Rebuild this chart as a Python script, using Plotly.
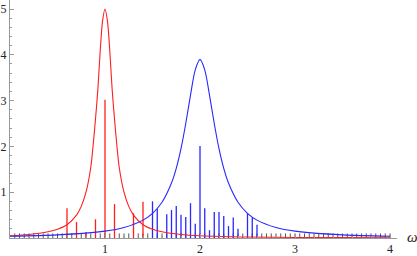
import plotly.graph_objects as go

# Smooth curves
red_x = [0.0, 0.2, 0.4, 0.5, 0.6, 0.7, 0.75, 0.8, 0.85, 0.9, 0.925, 0.95, 0.975, 1.0,
         1.025, 1.05, 1.075, 1.1, 1.15, 1.2, 1.25, 1.3, 1.4, 1.5, 1.6, 1.8, 2.0, 2.5, 3.0, 3.5, 4.0]
red_y = [0.05, 0.077, 0.135, 0.19, 0.29, 0.5, 0.69, 1.0, 1.54, 2.6, 3.25, 4.1, 4.75, 5.0,
         4.75, 4.1, 3.25, 2.6, 1.54, 1.0, 0.69, 0.5, 0.29, 0.19, 0.135, 0.077, 0.05, 0.022, 0.0125, 0.008, 0.0055]

blue_x = [0.0, 0.5, 1.0, 1.2, 1.4, 1.5, 1.6, 1.7, 1.75, 1.8, 1.85, 1.9, 1.95, 2.0,
          2.05, 2.1, 2.15, 2.2, 2.25, 2.3, 2.4, 2.5, 2.6, 2.8, 3.0, 3.5, 4.0]
blue_y = [0.039, 0.068, 0.15, 0.229, 0.39, 0.538, 0.78, 1.2, 1.52, 1.95, 2.5, 3.12, 3.67, 3.9,
          3.67, 3.12, 2.5, 1.95, 1.52, 1.2, 0.78, 0.538, 0.39, 0.229, 0.15, 0.068, 0.039]

# Stick spectra
red_stick_x = [0.6, 0.7, 0.8, 0.9, 1.0, 1.1, 1.3, 1.4]
red_stick_h = [0.65, 0.35, 0.13, 0.41, 3.02, 0.74, 0.54, 0.79]

blue_stick_x = [1.5, 1.55, 1.65, 1.7, 1.75, 1.8, 1.85, 1.9, 1.95, 2.0, 2.05, 2.1,
                2.15, 2.2, 2.25, 2.3, 2.35, 2.4, 2.5, 2.55, 2.6]
blue_stick_h = [0.80, 0.64, 0.52, 0.61, 0.70, 0.51, 0.46, 0.76, 0.31, 2.01, 0.65, 0.17,
                0.57, 0.57, 0.48, 0.26, 0.45, 0.20, 0.54, 0.45, 0.29]

gray_stick_x = [round(0.05 * i, 2) for i in range(1, 81)]
gray_stick_h = [0.1] * len(gray_stick_x)

y_ticks = [1, 2, 3, 4, 5]
x_ticks = [1, 2, 3, 4]


def sticks(xs, hs):
    sx, sy = [], []
    for x, h in zip(xs, hs):
        sx += [x, x, None]
        sy += [0, h, None]
    return sx, sy


fig = go.Figure()
gx, gy = sticks(gray_stick_x, gray_stick_h)
fig.add_trace(go.Scatter(x=gx, y=gy, mode="lines", line=dict(color="rgba(60,60,60,0.85)", width=1),
                         hoverinfo="skip"))
rx, ry = sticks(red_stick_x, red_stick_h)
fig.add_trace(go.Scatter(x=rx, y=ry, mode="lines", line=dict(color="rgb(255,30,30)", width=1.3),
                         hoverinfo="skip"))
bx, by = sticks(blue_stick_x, blue_stick_h)
fig.add_trace(go.Scatter(x=bx, y=by, mode="lines", line=dict(color="rgb(40,40,255)", width=1.3),
                         hoverinfo="skip"))
fig.add_trace(go.Scatter(x=red_x, y=red_y, mode="lines", line=dict(color="rgb(255,30,30)", width=1.1,
                                                                   shape="spline", smoothing=0.8)))
fig.add_trace(go.Scatter(x=blue_x, y=blue_y, mode="lines", line=dict(color="rgb(40,40,255)", width=1.1,
                                                                     shape="spline", smoothing=0.8)))

W, H = 417, 256
axis_gray = "#999999"
font = dict(family="Liberation Serif, Times New Roman, serif", size=12, color="#222222")

fig.update_layout(
    width=W, height=H,
    margin=dict(l=0, r=0, t=0, b=0, autoexpand=False),
    paper_bgcolor="white", plot_bgcolor="white",
    showlegend=False,
    xaxis=dict(domain=[10 / W, 397 / W], range=[0, 387 / 95], showgrid=False, zeroline=False,
               automargin=False,
               showline=True, linecolor=axis_gray, linewidth=1,
               tickmode="array", tickvals=x_ticks, ticktext=[str(t) for t in x_ticks],
               ticks="inside", ticklen=4, tickcolor=axis_gray, tickfont=font, ticklabelstandoff=0,
               minor=dict(dtick=0.2, ticks="inside", ticklen=2, tickcolor=axis_gray)),
    yaxis=dict(domain=[18 / H, 1], range=[0, 238 / 45.8], showgrid=False, zeroline=False,
               automargin=False,
               showline=True, linecolor=axis_gray, linewidth=1,
               tickmode="array", tickvals=y_ticks, ticktext=[str(t) for t in y_ticks],
               ticks="inside", ticklen=4, tickcolor=axis_gray, tickfont=font, ticklabelstandoff=0,
               minor=dict(dtick=0.2, ticks="inside", ticklen=2, tickcolor=axis_gray)),
    annotations=[dict(text="<i>ω</i>", x=412 / W, y=19 / H, xref="paper", yref="paper",
                      showarrow=False, xanchor="center", yanchor="middle",
                      font=dict(family="Liberation Serif, Times New Roman, serif", size=15,
                                color="#222222"))],
)

fig.write_html("out.html", config={"displayModeBar": False},
               post_script="document.body.style.margin='0';document.body.style.overflow='hidden';")
